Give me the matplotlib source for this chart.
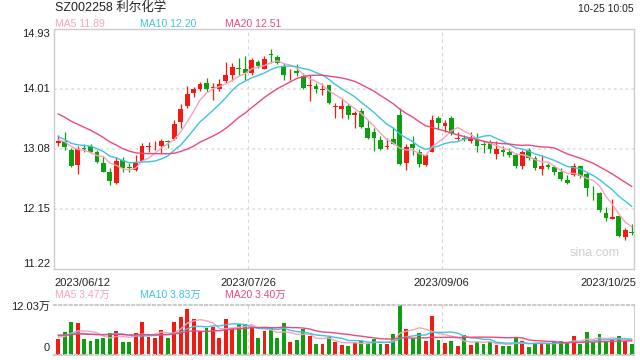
import matplotlib
matplotlib.use("Agg")
import matplotlib.pyplot as plt
import numpy as np
import pandas as pd

# K线数据 (2023/06/12 - 2023/10/25, 90 个交易日)
opens = [13.17, 13.21, 13.06, 12.83, 13.09, 13.13, 13.04, 12.87, 12.72, 12.56,
         12.91, 12.80, 12.75, 12.90, 13.11, 13.15, 13.12, 13.20, 13.24, 13.49,
         13.74, 13.94, 14.00, 14.10, 14.02, 14.01, 14.13, 14.22, 14.325, 14.31,
         14.26, 14.43, 14.32, 14.55, 14.50, 14.35, 14.25, 14.29, 14.21, 14.06,
         14.05, 13.99, 14.07, 13.73, 13.70, 13.74, 13.60, 13.66, 13.41, 13.35,
         13.22, 13.115, 13.23, 13.61, 12.87, 13.15, 13.04, 12.84, 13.04, 13.56,
         13.43, 13.56, 13.23, 13.245, 13.20, 13.22, 13.16, 13.17, 13.01, 13.07,
         13.04, 12.98, 12.81, 13.07, 12.94, 12.77, 12.84, 12.80, 12.73, 12.60,
         12.67, 12.81, 12.70, 12.46, 12.40, 12.09, 12.00, 12.05, 11.72, 11.79]
highs = [13.29, 13.34, 13.10, 13.13, 13.16, 13.16, 13.07, 12.97, 12.785, 12.955,
         12.95, 12.87, 12.98, 13.17, 13.19, 13.21, 13.23, 13.22, 13.53, 13.77,
         14.05, 14.04, 14.11, 14.17, 14.10, 14.16, 14.43, 14.41, 14.49, 14.52,
         14.49, 14.46, 14.52, 14.63, 14.53, 14.41, 14.31, 14.39, 14.26, 14.23,
         14.10, 14.10, 14.07, 13.79, 13.87, 13.78, 13.66, 13.71, 13.53, 13.40,
         13.28, 13.25, 13.42, 13.71, 13.15, 13.28, 13.08, 12.99, 13.61, 13.585,
         13.53, 13.585, 13.35, 13.30, 13.34, 13.33, 13.20, 13.22, 13.20, 13.12,
         13.09, 13.02, 13.07, 13.10, 12.97, 12.99, 12.87, 12.84, 12.785, 12.67,
         12.86, 12.82, 12.72, 12.51, 12.41, 12.18, 12.30, 12.05, 11.865, 11.92]
lows = [13.12, 13.07, 12.80, 12.70, 13.04, 13.02, 12.86, 12.72, 12.53, 12.54,
        12.73, 12.73, 12.74, 12.90, 13.04, 13.06, 13.02, 13.10, 13.22, 13.41,
        13.72, 13.89, 13.97, 13.96, 13.83, 13.98, 14.10, 14.13, 14.23, 14.14,
        14.23, 14.33, 14.31, 14.41, 14.39, 14.15, 14.15, 14.21, 14.00, 13.82,
        13.95, 13.92, 13.78, 13.56, 13.56, 13.54, 13.40, 13.40, 13.23, 13.05,
        13.07, 13.08, 13.15, 12.84, 12.75, 12.99, 12.80, 12.81, 13.03, 13.39,
        13.35, 13.30, 13.22, 13.20, 13.17, 13.04, 13.02, 13.02, 12.92, 12.97,
        12.95, 12.785, 12.77, 12.91, 12.76, 12.67, 12.77, 12.68, 12.59, 12.54,
        12.66, 12.63, 12.36, 12.29, 12.11, 11.97, 11.99, 11.72, 11.68, 11.75]
closes = [13.21, 13.11, 12.81, 13.08, 13.085, 13.04, 12.88, 12.73, 12.58, 12.90,
          12.79, 12.78, 12.87, 13.13, 13.12, 13.16, 13.20, 13.19, 13.47, 13.70,
          13.93, 14.01, 14.08, 14.00, 14.04, 14.09, 14.22, 14.35, 14.32, 14.25,
          14.45, 14.36, 14.47, 14.53, 14.41, 14.22, 14.26, 14.25, 14.03, 14.07,
          14.00, 14.00, 13.79, 13.74, 13.75, 13.61, 13.63, 13.42, 13.25, 13.25,
          13.08, 13.12, 13.16, 12.85, 13.11, 13.09, 12.85, 12.98, 13.53, 13.48,
          13.48, 13.33, 13.235, 13.24, 13.25, 13.12, 13.14, 13.08, 13.08, 13.03,
          12.99, 12.82, 13.04, 12.94, 12.79, 12.82, 12.80, 12.72, 12.61, 12.56,
          12.82, 12.66, 12.48, 12.455, 12.13, 12.01, 12.03, 11.74, 11.83, 11.78]
# 成交量 (万手)
volumes = [3.85, 5.53, 7.94, 7.70, 3.85, 3.37, 3.85, 4.09, 5.29, 5.77,
           3.13, 3.13, 5.29, 7.94, 4.33, 4.09, 6.00, 4.09, 7.94, 9.14,
           11.07, 8.66, 5.77, 6.50, 6.74, 4.09, 8.66, 6.50, 7.46, 7.46,
           6.74, 4.09, 5.77, 6.26, 4.09, 7.70, 3.13, 3.61, 6.26, 4.57,
           2.65, 2.65, 4.33, 3.13, 2.41, 2.17, 2.89, 3.37, 2.89, 3.85,
           2.65, 2.65, 5.05, 12.03, 6.26, 4.09, 5.29, 3.37, 9.38, 3.61,
           2.89, 3.37, 2.17, 4.81, 2.41, 3.13, 2.65, 3.13, 2.41, 2.17,
           2.17, 4.09, 3.37, 1.92, 2.65, 3.13, 2.65, 3.37, 3.37, 2.89,
           4.57, 2.65, 5.53, 3.13, 5.05, 3.30, 3.61, 4.57, 3.30, 2.60]
# 图中窗口之前的19个收盘价/成交量 (估计, 仅用于均线起点)
prev_closes = [14.10, 14.05, 14.00, 14.02, 13.95, 13.98, 13.90, 13.92, 13.88, 13.90,
               13.55, 13.40, 13.30, 13.20, 13.15, 13.25, 13.18, 13.30, 13.16]
prev_volumes = [4.2, 5.1, 4.4, 4.8, 4.3, 5.0, 4.6, 4.5, 4.9, 4.2,
                5.6, 4.9, 5.8, 5.0, 5.2, 4.6, 4.3, 4.7, 4.05]

date_labels = ["2023/06/12", "2023/07/26", "2023/09/06", "2023/10/25"]
price_ticks = [14.93, 14.01, 13.08, 12.15, 11.22]
ma_labels = ["MA5 11.89", "MA10 12.20", "MA20 12.51"]
vol_ma_labels = ["MA5 3.47万", "MA10 3.83万", "MA20 3.40万"]

RED = "#f21b12"
GREEN = "#0d9f0d"
MA_COLORS = ["#f7a3bf", "#3ec3e4", "#e84a7f"]
FONTS = ["Liberation Sans", "Noto Sans CJK SC"]

n = len(closes)
x = np.arange(n)
o = np.array(opens); c = np.array(closes)
h = np.array(highs); l = np.array(lows)
cols = [RED if c[i] >= o[i] else GREEN for i in range(n)]

all_c = pd.Series(prev_closes + closes)
all_v = pd.Series(prev_volumes + volumes)
k = len(prev_closes)
ma_price = [all_c.rolling(w).mean().values[k:] for w in (5, 10, 20)]
ma_vol = [all_v.rolling(w).mean().values[k:] for w in (5, 10, 20)]

fig = plt.figure(figsize=(6.4, 3.6), dpi=100)
W, H = 640, 360
ax = fig.add_axes([54 / W, 1 - 269.3 / H, 580 / W, 240 / H])
axv = fig.add_axes([54 / W, 1 - 355 / H, 580 / W, 50 / H])

xlim = (-0.67, 89.35)

# 价格图
for yv in price_ticks[1:-1]:
    ax.axhline(yv, color="#dddddd", lw=1.2, ls=(0, (1.5, 2)), zorder=0)
for xv in (29.5, 59.5):
    ax.axvline(xv, color="#d5d5d5", lw=0.8, ls=(0, (3, 3)), zorder=0)
ax.vlines(x, l, h, colors=cols, lw=0.9, zorder=2)
body_bottom = np.minimum(o, c)
body_h = np.maximum(np.abs(c - o), 0.012)
ax.bar(x, body_h, bottom=body_bottom, width=0.74, color=cols, zorder=3)
for ma, col in zip(ma_price, MA_COLORS):
    ax.plot(x, ma, color=col, lw=1.0, zorder=4)
ax.set_xlim(*xlim)
ax.set_ylim(11.22, 14.93)
ax.set_xticks([]); ax.set_yticks([])
for s in ax.spines.values():
    s.set_color("#cccccc"); s.set_linewidth(1)

tr = ax.get_yaxis_transform()
for i, yv in enumerate(price_ticks):
    va = "top" if i == 0 else ("bottom" if i == len(price_ticks) - 1 else "center")
    ax.text(-0.007, yv, f"{yv:.2f}", transform=tr, ha="right", va=va,
            fontsize=8, family=FONTS, color="#222222")

trx = ax.get_xaxis_transform()
date_pos = [xlim[0], 29.5, 59.5, 89.7]
date_ha = ["left", "center", "center", "right"]
for lab, xp, ha in zip(date_labels, date_pos, date_ha):
    ax.text(xp, -0.055, lab, transform=trx, ha=ha, va="center",
            fontsize=8, family=FONTS, color="#222222")

ax.text(0.975, 0.07, "sina.com", transform=ax.transAxes, ha="right", va="center",
        fontsize=9, color="#cfcfcf", family=FONTS)

# 成交量图
for xv in (29.5, 59.5):
    axv.axvline(xv, color="#d5d5d5", lw=0.8, ls=(0, (3, 3)), zorder=0)
axv.bar(x, volumes, width=0.6, color=cols, zorder=2)
for ma, col in zip(ma_vol, MA_COLORS):
    axv.plot(x, ma, color=col, lw=1.0, zorder=3)
axv.set_xlim(*xlim)
axv.set_ylim(0, 12.03)
axv.set_xticks([]); axv.set_yticks([])
axv.spines["left"].set_visible(False)
axv.spines["right"].set_color("#cccccc")
for side in ("top", "bottom"):
    axv.spines[side].set_color("#cccccc")
    axv.spines[side].set_linewidth(1.5)
    axv.spines[side].set_linestyle((0, (1, 1.5)))
trv = axv.get_yaxis_transform()
axv.text(-0.007, 11.6, "12.03万", transform=trv, ha="right", va="center",
         fontsize=8, family=FONTS, color="#222222")
axv.text(-0.007, 1.6, "0", transform=trv, ha="right", va="center",
         fontsize=8, family=FONTS, color="#222222")

# 标题与图例
fig.text(55 / W, 1 - 7.5 / H, "SZ002258 利尔化学", ha="left", va="center",
         fontsize=9, family=FONTS, color="#222222")
fig.text(634 / W, 1 - 8.5 / H, "10-25 10:05", ha="right", va="center",
         fontsize=7.5, family=FONTS, color="#222222")
for lab, xp, col in zip(ma_labels, (55, 140, 225), MA_COLORS):
    fig.text(xp / W, 1 - 23.7 / H, lab, ha="left", va="center",
             fontsize=7.5, family=FONTS, color=col)
for lab, xp, col in zip(vol_ma_labels, (55, 140, 225), MA_COLORS):
    fig.text(xp / W, 1 - 295 / H, lab, ha="left", va="center",
             fontsize=7.5, family=FONTS, color=col)

fig.savefig("out.png", dpi=100)
